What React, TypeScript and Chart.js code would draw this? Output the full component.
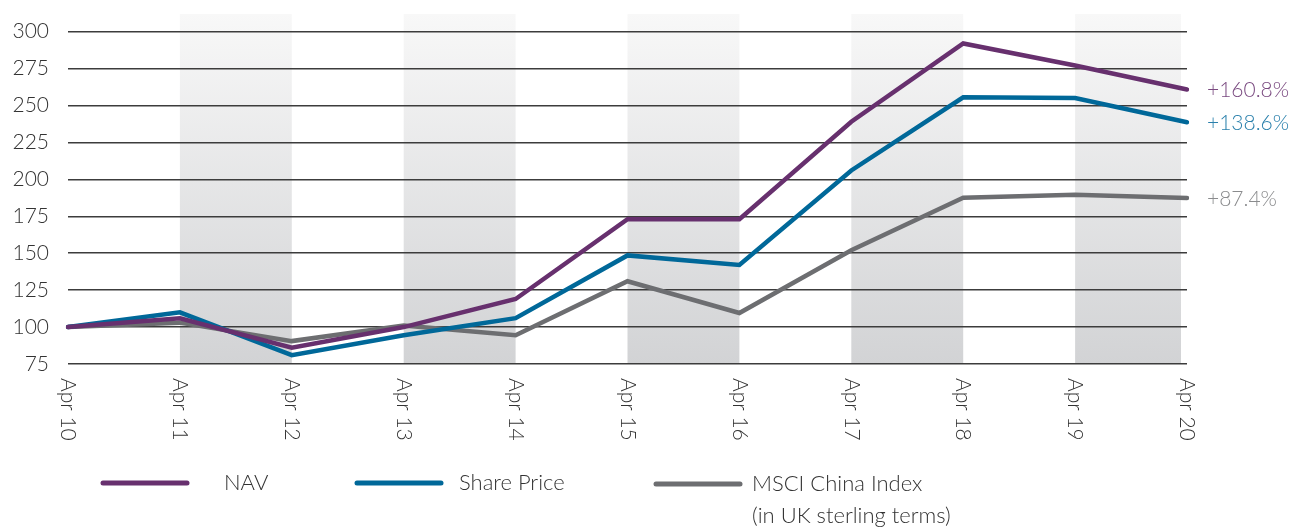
import React, { useEffect, useRef } from "react";
import { Chart, registerables } from "chart.js";

Chart.register(...registerables);

const categories = ["Apr 10", "Apr 11", "Apr 12", "Apr 13", "Apr 14", "Apr 15", "Apr 16", "Apr 17", "Apr 18", "Apr 19", "Apr 20"];
const navValues = [100, 106, 86, 100, 119, 173, 173, 239, 292, 277, 260.8];
const shareValues = [100, 110, 81, 94.5, 106, 148.5, 142, 206, 255.5, 255, 238.6];
const msciValues = [100, 103, 90.5, 101, 94.5, 131, 109.5, 152, 187.5, 189.5, 187.4];
const endLabels = ["+160.8%", "+138.6%", "+87.4%"];
const legendLabels = ["NAV", "Share Price", "MSCI China Index", "(in UK sterling terms)"];
const bandPairs = [[1, 2], [3, 4], [5, 6], [7, 8], [9, 10]];

const FONT = "Lato, 'Open Sans', sans-serif";
const COLORS = { nav: "#67306e", share: "#006899", msci: "#6d6e71" };
const LABEL_COLORS = ["#7a4a80", "#2a80ac", "#8a8b8d"];

export default function App() {
  const ref = useRef<HTMLCanvasElement | null>(null);

  useEffect(() => {
    const canvas = ref.current;
    if (!canvas) return;

    const overlay = {
      id: "overlay",
      beforeDraw(chart: any) {
        const ctx = chart.ctx;
        const x = chart.scales.x;
        const area = chart.chartArea;
        const top = 14;
        const g = ctx.createLinearGradient(0, top, 0, area.bottom);
        g.addColorStop(0, "#f8f8f8");
        g.addColorStop(1, "#d2d3d5");
        ctx.save();
        ctx.fillStyle = g;
        bandPairs.forEach(([a, b]) => {
          const x0 = x.getPixelForValue(a);
          const x1 = x.getPixelForValue(b);
          ctx.fillRect(x0, top, x1 - x0 - 6 * (b === 10 ? 1 : 0), area.bottom - top);
        });
        ctx.restore();
      },
      afterDraw(chart: any) {
        const ctx = chart.ctx;
        const x = chart.scales.x;
        const y = chart.scales.y;
        const area = chart.chartArea;
        ctx.save();
        // rotated x labels
        ctx.fillStyle = "#333333";
        ctx.font = `300 21px ${FONT}`;
        ctx.textAlign = "left";
        ctx.textBaseline = "middle";
        categories.forEach((c, i) => {
          const px = x.getPixelForValue(i);
          ctx.save();
          ctx.translate(px, area.bottom + 14);
          ctx.rotate(Math.PI / 2);
          ctx.fillText(c, 0, 0);
          ctx.restore();
        });
        // end labels
        const last = categories.length - 1;
        const endVals = [navValues[last], shareValues[last], msciValues[last]];
        ctx.font = `300 21px ${FONT}`;
        endVals.forEach((v, i) => {
          ctx.fillStyle = LABEL_COLORS[i];
          ctx.fillText(endLabels[i], x.getPixelForValue(last) + 20, y.getPixelForValue(v) + 1);
        });
        // legend
        const items = [
          { color: COLORS.nav, x0: 103, x1: 187, tx: 224, ty: 483, text: [legendLabels[0]] },
          { color: COLORS.share, x0: 357, x1: 441, tx: 459, ty: 483, text: [legendLabels[1]] },
          { color: COLORS.msci, x0: 656, x1: 740, tx: 752, ty: 484, text: [legendLabels[2], legendLabels[3]] },
        ];
        ctx.font = `300 22px ${FONT}`;
        ctx.fillStyle = "#333333";
        items.forEach((it) => {
          ctx.strokeStyle = it.color;
          ctx.lineWidth = 5;
          ctx.lineCap = "round";
          ctx.beginPath();
          ctx.moveTo(it.x0, it.ty);
          ctx.lineTo(it.x1, it.ty);
          ctx.stroke();
          ctx.fillStyle = "#333333";
          it.text.forEach((t, k) => ctx.fillText(t, it.tx, it.ty + k * 32));
        });
        ctx.restore();
      },
    };

    const mk = (label: string, data: number[], color: string) => ({
      label,
      data,
      borderColor: color,
      backgroundColor: color,
      borderWidth: 4.5,
      pointRadius: 0,
      tension: 0,
      fill: false,
      borderCapStyle: "round" as const,
    });

    const chart = new Chart(canvas, {
      type: "line",
      data: {
        labels: categories,
        datasets: [
          mk("NAV", navValues, COLORS.nav),
          mk("Share Price", shareValues, COLORS.share),
          mk("MSCI China Index", msciValues, COLORS.msci),
        ],
      },
      options: {
        animation: false,
        responsive: false,
        maintainAspectRatio: false,
        layout: { padding: { top: 30, right: 113, left: 0, bottom: 0 } },
        plugins: { legend: { display: false }, tooltip: { enabled: false } },
        scales: {
          x: {
            type: "category",
            offset: false,
            grid: { display: false },
            border: { display: false },
            ticks: { display: false },
            afterFit: (s: any) => {
              s.height = 165;
            },
          },
          y: {
            min: 75,
            max: 300,
            ticks: {
              stepSize: 25,
              padding: 19,
              color: "#333333",
              font: { family: FONT, size: 21, weight: "300" as any },
            },
            grid: { color: "#3c3c3c", lineWidth: 1.5, drawTicks: false },
            border: { display: false },
            afterFit: (s: any) => {
              s.width = 68;
            },
          },
        },
      },
      plugins: [overlay],
    });

    return () => chart.destroy();
  }, []);

  return (
    <div style={{ position: "absolute", left: 0, top: 0, width: 1300, height: 529, background: "#fff" }}>
      <canvas ref={ref} width={1300} height={529} style={{ width: 1300, height: 529 }} />
    </div>
  );
}
